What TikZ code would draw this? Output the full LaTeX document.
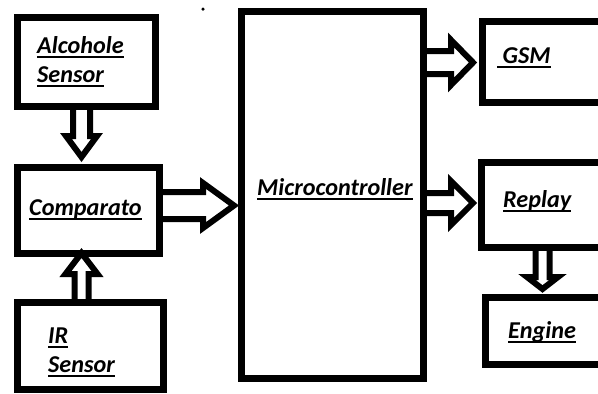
\documentclass[tikz,border=0pt]{standalone}
\usepackage{fontspec}
\setmainfont{Carlito}
\usetikzlibrary{calc}
\newcommand\myul[1]{\setbox0\hbox{#1}\rlap{\rule[-4.5pt]{\wd0}{2pt}}\box0}
\tikzset{
  box/.style={draw, line width=7pt, inner sep=0pt, outer sep=0pt, anchor=north west},
  barrow/.style={draw, fill=white, line width=6pt, line join=miter, miter limit=10},
  lbl/.style={anchor=base west, inner sep=0pt, font=\fontsize{24.2}{28}\selectfont\bfseries\itshape},
}
\newcommand\barrowdown[7]{% from, to, x, shaft half, head half, head length, tip offset
  \draw[barrow] let \p1=(#1.south), \p2=(#2.north) in
   (#3pt-#4pt,\y1) -- (#3pt-#4pt,\y2+#6pt) -- (#3pt-#5pt,\y2+#6pt) -- (#3pt,\y2+#7pt)
   -- (#3pt+#5pt,\y2+#6pt) -- (#3pt+#4pt,\y2+#6pt) -- (#3pt+#4pt,\y1) -- cycle;}
\newcommand\barrowup[7]{% from, to, x, shaft half, head half, head length, tip offset
  \draw[barrow] let \p1=(#1.north), \p2=(#2.south) in
   (#3pt-#4pt,\y1) -- (#3pt-#4pt,\y2-#6pt) -- (#3pt-#5pt,\y2-#6pt) -- (#3pt,\y2-#7pt)
   -- (#3pt+#5pt,\y2-#6pt) -- (#3pt+#4pt,\y2-#6pt) -- (#3pt+#4pt,\y1) -- cycle;}
\newcommand\barrowright[7]{% from, to, y, shaft half, head half, head length, tip offset
  \draw[barrow] let \p1=(#1.east), \p2=(#2.west) in
   (\x1,#3pt+#4pt) -- (\x2-#6pt,#3pt+#4pt) -- (\x2-#6pt,#3pt+#5pt) -- (\x2-#7pt,#3pt)
   -- (\x2-#6pt,#3pt-#5pt) -- (\x2-#6pt,#3pt-#4pt) -- (\x1,#3pt-#4pt) -- cycle;}
\begin{document}
\begin{tikzpicture}[x=1pt,y=1pt]
\useasboundingbox (0,0) rectangle (598,-394);
\clip (0,0) rectangle (598,-394);
% boxes
\node[box, minimum width=138pt, minimum height=89pt] (alc) at (17,-17) {};
\node[box, minimum width=142pt, minimum height=86pt] (comp) at (17,-167) {};
\node[box, minimum width=146pt, minimum height=87pt] (ir) at (17,-302) {};
\node[box, minimum width=182pt, minimum height=367pt] (mcu) at (241,-11) {};
\node[box, minimum width=158pt, minimum height=81pt] (gsm) at (482,-21) {};
\node[box, minimum width=159pt, minimum height=85pt] (rep) at (481,-162) {};
\node[box, minimum width=116pt, minimum height=67pt] (eng) at (485,-297) {};
% block arrows
\barrowdown{alc}{comp}{81.5}{8.5}{15.5}{31}{10}
\barrowup{ir}{comp}{81.5}{7}{16}{21}{0}
\barrowright{comp}{mcu}{-205.5}{13.5}{22.5}{38}{7}
\barrowright{mcu}{gsm}{-62.5}{11.5}{22.5}{31}{9}
\barrowright{mcu}{rep}{-203}{10}{22}{30}{8}
\barrowdown{rep}{eng}{542.5}{7}{15.5}{20}{8}
% redraw box borders over arrow ends
\foreach \b in {alc,comp,ir,mcu,gsm,rep,eng}
  \draw[line width=7pt] (\b.north west) rectangle (\b.south east);
% labels
\node[lbl] (t1) at (37,-53) {\myul{Alcohole}};
\node[lbl] (t2) at (37,-82) {\myul{Sensor}};
\node[lbl] (t3) at (29,-215) {\myul{Comparato}};
\node[lbl] (t4) at (48,-343) {\myul{IR}};
\node[lbl] (t5) at (48,-372) {\myul{Sensor}};
\node[lbl] (t6) at (257,-195) {\myul{Microcontroller}};
\node[lbl] (t7) at (497,-63) {\myul{\ GSM}};
\node[lbl] (t8) at (503,-207) {\myul{Replay}};
\node[lbl] (t9) at (508,-338) {\myul{Engine}};
\node[circle, fill, inner sep=0pt, minimum size=3.5pt] (speck) at (203,-9) {};
\end{tikzpicture}
\end{document}
